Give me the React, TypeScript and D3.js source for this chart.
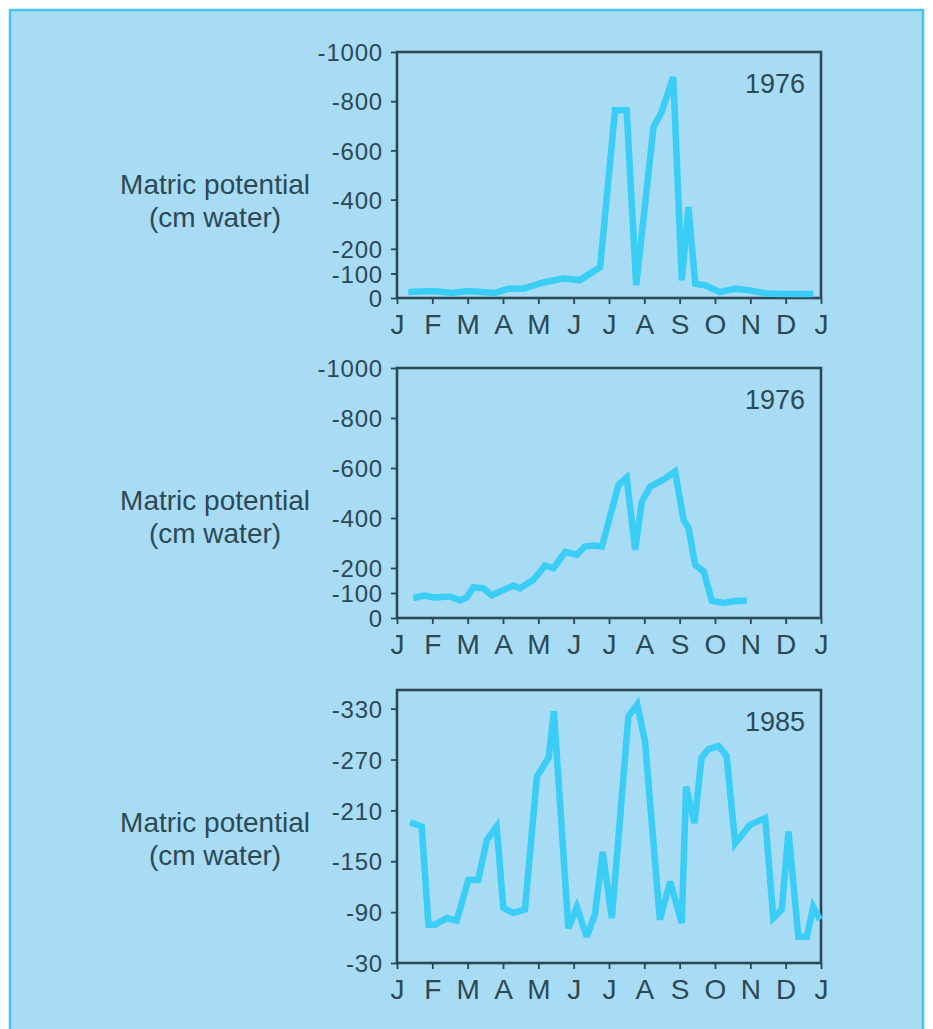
import React, { useEffect, useRef } from "react";
import * as d3 from "d3";

const monthLabels = ["J", "F", "M", "A", "M", "J", "J", "A", "S", "O", "N", "D", "J"];

// [month (0..12), matric potential (cm water)]
const series1976a: [number, number][] = [
  [0.32, -24], [1.03, -28], [1.55, -20], [2.0, -28], [2.77, -20], [3.15, -38], [3.57, -38],
  [4.14, -63], [4.71, -79], [5.18, -73], [5.75, -126], [6.17, -763], [6.5, -763], [6.77, -52],
  [7.26, -695], [7.49, -756], [7.82, -898], [8.06, -72], [8.25, -370], [8.44, -58], [8.72, -52],
  [9.14, -24], [9.57, -38], [9.99, -31], [10.46, -18], [10.85, -16], [11.78, -16],
];

const series1976b: [number, number][] = [
  [0.46, -80], [0.79, -90], [1.03, -82], [1.5, -86], [1.78, -70], [1.97, -82], [2.16, -122],
  [2.44, -119], [2.68, -90], [2.91, -106], [3.3, -130], [3.48, -119], [3.86, -153], [4.19, -210],
  [4.43, -199], [4.76, -264], [5.09, -253], [5.32, -286], [5.56, -290], [5.8, -286], [6.27, -533],
  [6.5, -562], [6.74, -273], [6.93, -466], [7.17, -526], [7.54, -553], [7.87, -586], [8.11, -393],
  [8.25, -360], [8.44, -213], [8.68, -186], [8.91, -69], [9.24, -60], [9.52, -67], [9.9, -70],
];

const series1985: [number, number][] = [
  [0.37, -196], [0.7, -191], [0.89, -75], [1.07, -75], [1.41, -83], [1.69, -80], [2.02, -128],
  [2.3, -128], [2.54, -175], [2.82, -191], [3.01, -95], [3.29, -89], [3.62, -93], [3.96, -250],
  [4.29, -272], [4.44, -327], [4.85, -71], [5.09, -96], [5.37, -61], [5.6, -87], [5.82, -161],
  [6.08, -83], [6.55, -321], [6.8, -335], [7.02, -291], [7.44, -81], [7.73, -126], [8.06, -77],
  [8.18, -238], [8.42, -195], [8.62, -272], [8.81, -282], [9.1, -286], [9.33, -274], [9.57, -171],
  [9.99, -193], [10.42, -201], [10.65, -83], [10.89, -93], [11.08, -185], [11.36, -61], [11.6, -61],
  [11.78, -96], [11.97, -81],
];

const ticksA = [0, -100, -200, -400, -600, -800, -1000];
const ticksB = [-30, -90, -150, -210, -270, -330];

const yearLabels = ["1976", "1976", "1985"];
const axisLabelLines = ["Matric potential", "(cm water)"];

const W = 933;
const H = 1029;
const INK = "#2c4954";
const LINE = "#3acdf6";
const BG = "#a8dbf4";
const FONT = "'Liberation Sans', Arial, Helvetica, sans-serif";

const panels = [
  { data: series1976a, top: 52, bottom: 298, domain: [0, -1000], ticks: ticksA, year: yearLabels[0] },
  { data: series1976b, top: 368, bottom: 618, domain: [0, -1000], ticks: ticksA, year: yearLabels[1] },
  { data: series1985, top: 690, bottom: 963, domain: [-30, -352], ticks: ticksB, year: yearLabels[2] },
];

const LEFT = 397;
const RIGHT = 821;

export default function App() {
  const ref = useRef<SVGSVGElement>(null);

  useEffect(() => {
    const svg = d3.select(ref.current);
    svg.selectAll("*").remove();

    svg.append("rect").attr("x", 0).attr("y", 0).attr("width", W).attr("height", H).attr("fill", "#ffffff");
    svg
      .append("rect")
      .attr("x", 10)
      .attr("y", 10)
      .attr("width", 913)
      .attr("height", H + 20)
      .attr("fill", BG)
      .attr("stroke", "#45c3ef")
      .attr("stroke-width", 2.5);

    const x = d3.scaleLinear().domain([0, 12]).range([LEFT, RIGHT]);

    panels.forEach((p) => {
      const y = d3.scaleLinear().domain(p.domain).range([p.bottom, p.top]);
      const g = svg.append("g");

      // y axis
      const yAxis = d3
        .axisLeft(y)
        .tickValues(p.ticks)
        .tickSize(6)
        .tickPadding(8)
        .tickFormat((d) => String(d));
      const ya = g.append("g").attr("transform", `translate(${LEFT},0)`).call(yAxis);
      ya.select(".domain").remove();
      ya.selectAll("line").attr("stroke", INK).attr("stroke-width", 1.8);
      ya.selectAll("text")
        .attr("fill", INK)
        .attr("font-family", FONT)
        .attr("font-size", 24)
        .attr("letter-spacing", 0.8)
        .attr("dy", "0.36em");

      // x axis
      const xAxis = d3
        .axisBottom(x)
        .tickValues(d3.range(0, 13))
        .tickSize(6)
        .tickFormat((d, i) => monthLabels[i]);
      const xa = g.append("g").attr("transform", `translate(0,${p.bottom})`).call(xAxis);
      xa.select(".domain").remove();
      xa.selectAll("line").attr("stroke", INK).attr("stroke-width", 1.8);
      xa.selectAll("text")
        .attr("fill", INK)
        .attr("font-family", FONT)
        .attr("font-size", 28)
        .attr("y", 36)
        .attr("dy", 0);

      // frame
      g.append("rect")
        .attr("x", LEFT)
        .attr("y", p.top)
        .attr("width", RIGHT - LEFT)
        .attr("height", p.bottom - p.top)
        .attr("fill", "none")
        .attr("stroke", INK)
        .attr("stroke-width", 2.6);

      // data line
      const line = d3
        .line<[number, number]>()
        .x((d) => x(d[0]))
        .y((d) => y(d[1]));
      g.append("path")
        .datum(p.data)
        .attr("d", line)
        .attr("fill", "none")
        .attr("stroke", LINE)
        .attr("stroke-width", 6.5)
        .attr("stroke-linejoin", "miter")
        .attr("stroke-miterlimit", 3);

      // year
      g.append("text")
        .attr("x", 805)
        .attr("y", p.top + 41)
        .attr("text-anchor", "end")
        .attr("fill", INK)
        .attr("font-family", FONT)
        .attr("font-size", 27)
        .text(p.year);

      // axis label
      axisLabelLines.forEach((t, i) => {
        g.append("text")
          .attr("x", 215)
          .attr("y", p.top + 142 + i * 33)
          .attr("text-anchor", "middle")
          .attr("fill", INK)
          .attr("font-family", FONT)
          .attr("font-size", 28)
          .text(t);
      });
    });
  }, []);

  return (
    <svg
      ref={ref}
      width={W}
      height={H}
      style={{ position: "absolute", left: 0, top: 0, display: "block" }}
    />
  );
}
